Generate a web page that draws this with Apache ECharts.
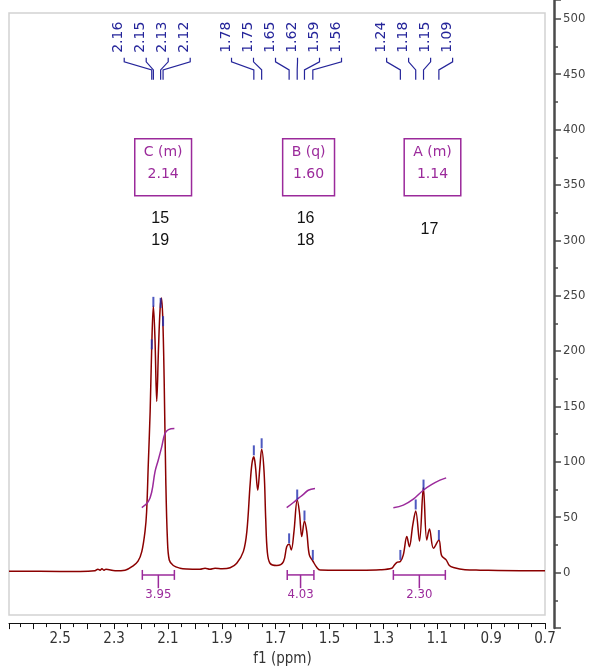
<!DOCTYPE html>
<html>
<head>
<meta charset="utf-8">
<script src="https://cdn.jsdelivr.net/npm/echarts@6/dist/echarts.min.js"></script>
<style>
  html, body { margin: 0; padding: 0; background: #ffffff; }
  #chart { width: 595px; height: 672px; }
</style>
</head>
<body>
<div id="chart"></div>
<script>
// 1H NMR spectrum, chemical shift f1 in ppm (x, reversed) against intensity (y)

// Spectrum trace
const specPpm = [2.690, 2.575, 2.426, 2.371, 2.360, 2.352, 2.345, 2.337, 2.330, 2.296, 2.259,
  2.228, 2.211, 2.197, 2.185, 2.179, 2.173, 2.166, 2.160, 2.154, 2.148, 2.1415, 2.135, 2.129,
  2.124, 2.119, 2.114, 2.108, 2.102, 2.095, 2.080, 2.055, 2.030, 1.981, 1.962, 1.944, 1.925,
  1.899, 1.869, 1.8445, 1.820, 1.807, 1.795, 1.788, 1.781, 1.775, 1.7665, 1.759, 1.752, 1.743,
  1.737, 1.731, 1.721, 1.696, 1.671, 1.659, 1.650, 1.642, 1.632, 1.620, 1.612, 1.603, 1.593,
  1.5845, 1.575, 1.562, 1.547, 1.535, 1.461, 1.387, 1.312, 1.269, 1.259, 1.248, 1.237, 1.226,
  1.213, 1.2035, 1.191, 1.180, 1.166, 1.1516, 1.139, 1.129, 1.114, 1.094, 1.084, 1.067, 1.055,
  1.040, 0.997, 0.941, 0.792, 0.700];
const specInt = [-0.5, -0.5, -0.7, 0, 1.4, 0.5, 1.8, 0.5, 1.4, 0, 0.5,
  4.7, 8.6, 17.3, 35.7, 53.7, 95.5, 144, 203.8, 240, 209.9, 153.3, 200.9, 237,
  247, 228, 173.8, 83.5, 29.3, 9.7, 4.7, 2.3, 1.6, 1.4, 2.3, 1.4, 2.3,
  1.8, 2.7, 6.8, 17.3, 35.4, 77.5, 97, 103.1, 94.3, 72.9, 92.5, 110, 89.6,
  47.4, 17.3, 6.8, 4.7, 8.3, 21.8, 23.9, 18.8, 35.4, 64, 53.4, 30.9, 45,
  35.4, 14.3, 8.8, 2.9, 0.7, 0.5, 0.5, 0.9, 2.3, 5.2, 7.7, 8.3, 14.3,
  30.9, 21.8, 41.3, 54, 26.9, 75.4, 27.8, 37.7, 20.3, 27.8, 13.7, 9.8, 4.7,
  2.9, 0.9, 0.5, 0, 0];

// Picked peaks: shift, height of the pick mark, label cluster
const peakPpm = [2.160, 2.154, 2.127, 2.118, 1.781, 1.752, 1.650, 1.620, 1.593, 1.562,
  1.237, 1.180, 1.151, 1.094];
const peakHeight = [205, 243.5, 242.6, 226, 109, 115.4, 29.3, 69, 50, 14.3,
  14.3, 60, 78, 32.3];
const peakCluster = [0, 0, 0, 0, 1, 1, 1, 1, 1, 1, 2, 2, 2, 2];

// Multiplet reports
const multLetter = ['C', 'B', 'A'];
const multKind = ['m', 'q', 'm'];
const multShift = [2.14, 1.60, 1.14];
const multAtoms = [['15', '19'], ['16', '18'], ['17']];

// Integrals: range and value
const intFrom = [2.195, 1.657, 1.263];
const intTo = [2.076, 1.558, 1.070];
const intValue = [3.95, 4.03, 2.30];

// Integral curves
const intCurveCPpm = [2.197, 2.173, 2.160, 2.148, 2.136, 2.123, 2.111, 2.098, 2.076];
const intCurveCVal = [57.1, 62.5, 71.5, 89.6, 100.1, 112.2, 124.2, 127.8, 128.7];
const intCurveBPpm = [1.659, 1.634, 1.616, 1.597, 1.579, 1.554];
const intCurveBVal = [57.1, 61.8, 65.5, 69.1, 72.9, 74.5];
const intCurveAPpm = [1.263, 1.226, 1.189, 1.152, 1.120, 1.090, 1.067];
const intCurveAVal = [57.1, 59.4, 64.8, 72.9, 78.1, 82, 84.1];

// Axis tick values
const yTickStep = 50;
const xTickStep = 0.1;

const SPEC_COLOR = '#8b0000';
const PICK_COLOR = '#2230b0';
const LABEL_COLOR = '#25259a';
const PURPLE = '#9b2a9b';
const NARROW = "'DejaVu Sans Condensed', 'Liberation Sans', sans-serif";
const SANS = "'DejaVu Sans', Verdana, sans-serif";
const LABEL_STEP = 22;

const zip = (a, b) => a.map((v, i) => [v, b[i]]);

function renderPeakLabel(params, api) {
  const i = params.dataIndex;
  const members = [];
  peakCluster.forEach((c, k) => { if (c === peakCluster[i]) members.push(k); });
  const xs = members.map(k => api.coord([peakPpm[k], 0])[0]);
  const centre = xs.reduce((s, v) => s + v, 0) / xs.length;
  const j = members.indexOf(i);
  const lx = centre + (j - (members.length - 1) / 2) * LABEL_STEP;
  const px = api.coord([peakPpm[i], 0])[0];
  const yv = v => api.coord([peakPpm[i], v])[1];
  return {
    type: 'group',
    children: [
      {
        type: 'polyline',
        shape: { points: [[lx, yv(464.5)], [lx, yv(460.9)], [px, yv(453.6)], [px, yv(444.6)]] },
        style: { stroke: LABEL_COLOR, lineWidth: 1.2, fill: null }
      },
      {
        type: 'text',
        x: lx - 5.5,
        y: yv(469),
        rotation: Math.PI / 2,
        style: {
          text: peakPpm[i].toFixed(2),
          fill: LABEL_COLOR,
          font: '14px ' + SANS,
          align: 'left',
          verticalAlign: 'middle'
        }
      }
    ]
  };
}

function renderMultiplet(params, api) {
  const i = params.dataIndex;
  const x = api.coord([multShift[i], 0])[0];
  const yv = v => api.coord([multShift[i], v])[1];
  return {
    type: 'group',
    children: [
      {
        type: 'text',
        x: x + 6,
        y: yv(391.1),
        style: {
          text: multLetter[i] + ' (' + multKind[i] + ')\n' + multShift[i].toFixed(2),
          fill: PURPLE,
          font: '14px ' + SANS,
          lineHeight: 22,
          align: 'center',
          verticalAlign: 'top',
          padding: [2, 9, 11, 9],
          borderColor: PURPLE,
          borderWidth: 1.5
        }
      },
      {
        type: 'text',
        x: x + 3,
        y: yv(309.2),
        style: {
          text: multAtoms[i].join('\n'),
          fill: '#111111',
          font: '16px Arial, "Liberation Sans", sans-serif',
          lineHeight: 22,
          align: 'center',
          verticalAlign: 'middle'
        }
      }
    ]
  };
}

function renderIntegral(params, api) {
  const i = params.dataIndex;
  const a = api.coord([intFrom[i], 0])[0];
  const b = api.coord([intTo[i], 0])[0];
  const m = (a + b) / 2;
  const yv = v => api.coord([intFrom[i], v])[1];
  const line = (x1, y1, x2, y2) => ({
    type: 'line',
    shape: { x1: x1, y1: y1, x2: x2, y2: y2 },
    style: { stroke: PURPLE, lineWidth: 1.5 }
  });
  return {
    type: 'group',
    children: [
      line(a, yv(-3.8), b, yv(-3.8)),
      line(a, yv(0.7), a, yv(-8.3)),
      line(b, yv(0.7), b, yv(-8.3)),
      line(m, yv(-3.8), m, yv(-15.8)),
      {
        type: 'text',
        x: m,
        y: yv(-22),
        style: {
          text: intValue[i].toFixed(2),
          fill: PURPLE,
          font: '13px ' + NARROW,
          align: 'center',
          verticalAlign: 'middle'
        }
      }
    ]
  };
}

const chart = echarts.init(document.getElementById('chart'), null, { renderer: 'canvas' });

const option = {
  animation: false,
  backgroundColor: '#ffffff',
  grid: [
    { left: 9, right: 50, top: 13, bottom: 55, show: true, borderColor: '#d2d2d2', borderWidth: 1.5 },
    { left: 9, right: 50, top: 0, bottom: 44 }
  ],
  xAxis: [
    {
      gridIndex: 0,
      type: 'value',
      inverse: true,
      min: 0.7,
      max: 2.69,
      interval: xTickStep,
      position: 'bottom',
      offset: 8,
      axisLine: { show: true, onZero: false, lineStyle: { color: '#111111', width: 1 } },
      axisTick: { show: true, length: 6, lineStyle: { color: '#111111' } },
      minorTick: { show: true, splitNumber: 2, length: 4, lineStyle: { color: '#111111' } },
      splitLine: { show: false },
      axisLabel: {
        margin: 9,
        color: '#333333',
        fontFamily: NARROW,
        fontSize: 15,
        formatter: v => {
          const n = Math.round(v * 10);
          return (n % 2 === 1 && n <= 25) ? (n / 10).toFixed(1) : '';
        }
      },
      name: 'f1 (ppm)',
      nameLocation: 'middle',
      nameGap: 27,
      nameTextStyle: { color: '#333333', fontFamily: NARROW, fontSize: 15, padding: [0, 0, 0, 11] }
    },
    { gridIndex: 1, type: 'value', show: false, min: 0, max: 1 }
  ],
  yAxis: [
    { gridIndex: 0, type: 'value', show: false, min: -40.2, max: 505.1 },
    {
      gridIndex: 1,
      type: 'value',
      position: 'right',
      offset: 9,
      min: -50,
      max: 517,
      interval: yTickStep,
      axisLine: { show: true, onZero: false, lineStyle: { color: '#4a4a4a', width: 2.5 } },
      axisTick: { show: true, inside: false, length: 7, lineStyle: { color: '#4a4a4a', width: 1.5 } },
      minorTick: { show: true, splitNumber: 2, length: 4, lineStyle: { color: '#4a4a4a', width: 1.5 } },
      splitLine: { show: false },
      axisLabel: {
        margin: 9,
        color: '#444444',
        fontFamily: NARROW,
        fontSize: 13,
        formatter: v => (v < 0 || v > 500) ? '' : String(v)
      }
    }
  ],
  series: [
    {
      name: 'spectrum',
      type: 'line',
      xAxisIndex: 0,
      yAxisIndex: 0,
      data: zip(specPpm, specInt),
      smooth: 0.35,
      showSymbol: false,
      lineStyle: { color: SPEC_COLOR, width: 1.5 },
      z: 3
    },
    {
      name: 'integral C',
      type: 'line',
      data: zip(intCurveCPpm, intCurveCVal),
      smooth: 0.4,
      showSymbol: false,
      lineStyle: { color: PURPLE, width: 1.5 },
      z: 4
    },
    {
      name: 'integral B',
      type: 'line',
      data: zip(intCurveBPpm, intCurveBVal),
      smooth: 0.4,
      showSymbol: false,
      lineStyle: { color: PURPLE, width: 1.5 },
      z: 4
    },
    {
      name: 'integral A',
      type: 'line',
      data: zip(intCurveAPpm, intCurveAVal),
      smooth: 0.4,
      showSymbol: false,
      lineStyle: { color: PURPLE, width: 1.5 },
      z: 4
    },
    {
      name: 'peak picks',
      type: 'scatter',
      data: zip(peakPpm, peakHeight),
      symbol: 'rect',
      symbolSize: [2, 10],
      itemStyle: { color: PICK_COLOR },
      z: 5
    },
    {
      name: 'peak labels',
      type: 'custom',
      data: zip(peakPpm, peakHeight),
      renderItem: renderPeakLabel,
      clip: false,
      z: 5
    },
    {
      name: 'multiplets',
      type: 'custom',
      data: zip(multShift, multShift.map(() => 0)),
      renderItem: renderMultiplet,
      clip: false,
      z: 5
    },
    {
      name: 'integrals',
      type: 'custom',
      data: zip(intFrom, intValue),
      renderItem: renderIntegral,
      clip: false,
      z: 5
    }
  ]
};

chart.setOption(option);
</script>
</body>
</html>
